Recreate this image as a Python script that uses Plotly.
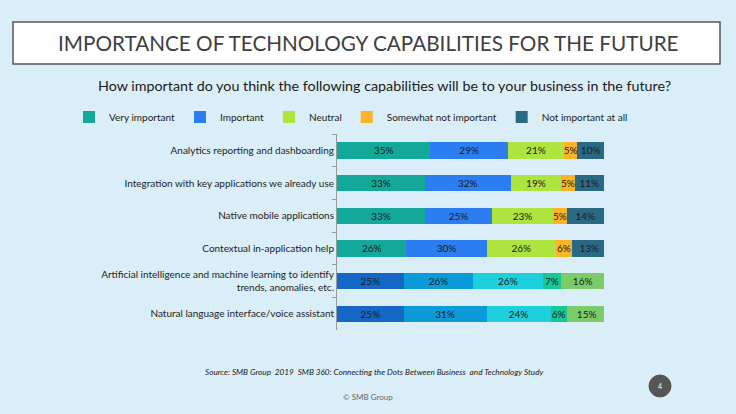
import plotly.graph_objects as go

categories = [
    "Analytics reporting and dashboarding",
    "Integration with key applications we already use",
    "Native mobile applications",
    "Contextual in-application help",
    "Artificial intelligence and machine learning to identify<br>trends, anomalies, etc.",
    "Natural language interface/voice assistant",
]
series_names = ["Very important", "Important", "Neutral", "Somewhat not important", "Not important at all"]
very_important = [35, 33, 33, 26, 25, 25]
important = [29, 32, 25, 30, 26, 31]
neutral = [21, 19, 23, 26, 26, 24]
somewhat_not = [5, 5, 5, 6, 7, 6]
not_at_all = [10, 11, 14, 13, 16, 15]

values = [very_important, important, neutral, somewhat_not, not_at_all]
palette_a = ["#14A898", "#2B7DF0", "#AEE43F", "#FBB32A", "#2A6983"]
palette_b = ["#1567C6", "#0A9BD8", "#1ECFDD", "#16C797", "#7BCB68"]
palette_rows = ["a", "a", "a", "a", "b", "b"]

BG = "#DAEEF7"
FONT = "Lato"

fig = go.Figure()
for i, (name, vals) in enumerate(zip(series_names, values)):
    colors = [palette_a[i] if r == "a" else palette_b[i] for r in palette_rows]
    fig.add_trace(go.Bar(
        y=categories, x=vals, name=name, orientation="h",
        marker=dict(color=colors, line=dict(width=0)),
        texttemplate="%{x}%", textposition="inside", insidetextanchor="middle",
        constraintext="none", textangle=0,
        textfont=dict(size=10, color="#1b1b1b", family=FONT),
        hoverinfo="x+y+name",
    ))

# plot area in page pixels: x 337..604, y 134..330
def px_x(p):
    return (p - 337) / 267

def px_y(p):
    return (330 - p) / 196

shapes = [
    dict(type="rect", xref="paper", yref="paper",
         x0=px_x(13), x1=px_x(720), y0=px_y(64), y1=px_y(22),
         fillcolor="white", line=dict(color="#555555", width=1.5), layer="below"),
    dict(type="circle", xref="paper", yref="paper",
         x0=px_x(649), x1=px_x(671), y0=px_y(397), y1=px_y(375),
         fillcolor="#555555", line=dict(color="#555555", width=1)),
]

annotations = [
    dict(text="IMPORTANCE OF TECHNOLOGY CAPABILITIES FOR THE FUTURE",
         x=px_x(368), y=px_y(43), xref="paper", yref="paper", showarrow=False,
         xanchor="center", yanchor="middle",
         font=dict(family=FONT, size=20.7, color="#404040")),
    dict(text="How important do you think the following capabilities will be to your business in the future?",
         x=px_x(384), y=px_y(85), xref="paper", yref="paper", showarrow=False,
         xanchor="center", yanchor="middle",
         font=dict(family=FONT, size=14.3, color="#1a1a1a")),
    dict(text="<i>Source: SMB Group  2019  SMB 360: Connecting the Dots Between Business  and Technology Study</i>",
         x=px_x(375), y=px_y(372), xref="paper", yref="paper", showarrow=False,
         xanchor="center", yanchor="middle",
         font=dict(family=FONT, size=8.2, color="#1a1a1a")),
    dict(text="© SMB Group",
         x=px_x(368), y=px_y(397), xref="paper", yref="paper", showarrow=False,
         xanchor="center", yanchor="middle",
         font=dict(family=FONT, size=8, color="#666666")),
    dict(text="4",
         x=px_x(660), y=px_y(386), xref="paper", yref="paper", showarrow=False,
         xanchor="center", yanchor="middle",
         font=dict(family=FONT, size=7, color="white")),
]

fig.update_layout(
    width=736, height=414,
    barmode="stack", bargap=0.5,
    paper_bgcolor=BG, plot_bgcolor=BG,
    font=dict(family=FONT, size=10, color="#222222"),
    margin=dict(l=337, r=132, t=134, b=84, autoexpand=False),
    showlegend=True,
    legend=dict(orientation="h", xref="paper", yref="paper",
                x=px_x(69), xanchor="left", y=px_y(117), yanchor="middle",
                font=dict(size=10, color="#222222", family=FONT),
                bgcolor="rgba(0,0,0,0)", traceorder="normal", itemwidth=30),
    xaxis=dict(range=[0, 100], showgrid=False, zeroline=False, showticklabels=False,
               showline=False, fixedrange=True),
    yaxis=dict(autorange="reversed", showgrid=False, zeroline=False,
               showline=True, linecolor="#999999", linewidth=1,
               ticks="outside", tickson="boundaries", ticklen=4, tickcolor="#999999",
               tickfont=dict(size=10, color="#222222", family=FONT)),
    shapes=shapes, annotations=annotations,
)

fig.write_html("out.html", config={"displayModeBar": False},
               post_script="document.body.style.margin='0';document.body.style.background='" + BG + "';")
